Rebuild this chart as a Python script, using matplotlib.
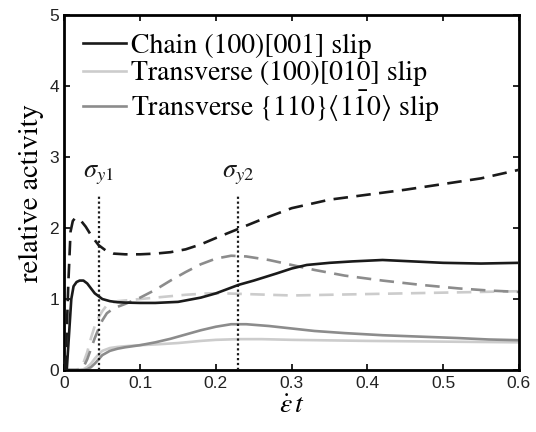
import numpy as np
import matplotlib
matplotlib.use("Agg")
import matplotlib.pyplot as plt

plt.rcParams['mathtext.fontset'] = 'stix'

# Chain (100)[001] slip
chain_sol_x = [0, 0.003, 0.006, 0.009, 0.012, 0.016, 0.02, 0.025, 0.03, 0.035, 0.04, 0.045, 0.05, 0.06, 0.07, 0.08, 0.1, 0.12, 0.15, 0.18, 0.2, 0.21, 0.23, 0.25, 0.28, 0.3, 0.32, 0.35, 0.38, 0.42, 0.46, 0.5, 0.55, 0.6]
chain_sol_y = [0, 0.0, 0.5, 1.0, 1.18, 1.24, 1.26, 1.26, 1.22, 1.15, 1.08, 1.04, 1.0, 0.97, 0.955, 0.95, 0.945, 0.945, 0.96, 1.02, 1.08, 1.12, 1.2, 1.26, 1.36, 1.43, 1.48, 1.51, 1.53, 1.55, 1.53, 1.51, 1.5, 1.51]
chain_dash_x = [0, 0.002, 0.005, 0.008, 0.011, 0.014, 0.018, 0.022, 0.028, 0.035, 0.045, 0.055, 0.065, 0.08, 0.1, 0.12, 0.14, 0.16, 0.18, 0.2, 0.23, 0.26, 0.3, 0.35, 0.4, 0.45, 0.5, 0.55, 0.6]
chain_dash_y = [0, 0.2, 1.2, 1.95, 2.1, 2.14, 2.13, 2.1, 2.02, 1.9, 1.76, 1.68, 1.64, 1.63, 1.63, 1.64, 1.66, 1.7, 1.77, 1.86, 1.99, 2.12, 2.28, 2.4, 2.47, 2.54, 2.62, 2.7, 2.82]

# Transverse (100)[010] slip
tr1_sol_x = [0, 0.02, 0.025, 0.03, 0.035, 0.04, 0.045, 0.05, 0.06, 0.07, 0.08, 0.1, 0.12, 0.15, 0.18, 0.2, 0.23, 0.26, 0.3, 0.4, 0.5, 0.6]
tr1_sol_y = [0, 0, 0.01, 0.04, 0.09, 0.16, 0.22, 0.27, 0.31, 0.325, 0.335, 0.35, 0.36, 0.38, 0.41, 0.425, 0.435, 0.435, 0.425, 0.41, 0.4, 0.39]
tr1_dash_x = [0, 0.015, 0.02, 0.025, 0.03, 0.035, 0.04, 0.045, 0.05, 0.055, 0.06, 0.07, 0.08, 0.1, 0.13, 0.16, 0.19, 0.21, 0.24, 0.27, 0.3, 0.35, 0.4, 0.45, 0.5, 0.55, 0.6]
tr1_dash_y = [0, 0, 0.02, 0.1, 0.25, 0.45, 0.62, 0.74, 0.83, 0.9, 0.94, 0.97, 0.98, 1.0, 1.03, 1.06, 1.08, 1.08, 1.07, 1.06, 1.05, 1.06, 1.07, 1.08, 1.09, 1.1, 1.11]

# Transverse {110}<1-10> slip
tr2_sol_x = [0, 0.025, 0.03, 0.035, 0.04, 0.045, 0.05, 0.06, 0.07, 0.08, 0.1, 0.12, 0.14, 0.16, 0.18, 0.2, 0.22, 0.24, 0.27, 0.3, 0.33, 0.37, 0.42, 0.47, 0.52, 0.56, 0.6]
tr2_sol_y = [0, 0, 0.01, 0.04, 0.09, 0.15, 0.21, 0.27, 0.3, 0.32, 0.35, 0.39, 0.44, 0.5, 0.56, 0.61, 0.645, 0.645, 0.62, 0.585, 0.55, 0.52, 0.49, 0.47, 0.45, 0.43, 0.42]
tr2_dash_x = [0, 0.02, 0.025, 0.03, 0.035, 0.04, 0.045, 0.05, 0.056, 0.065, 0.08, 0.1, 0.12, 0.14, 0.16, 0.18, 0.2, 0.22, 0.24, 0.27, 0.3, 0.33, 0.37, 0.42, 0.47, 0.52, 0.56, 0.6]
tr2_dash_y = [0, 0, 0.04, 0.15, 0.3, 0.45, 0.58, 0.7, 0.8, 0.87, 0.93, 1.02, 1.13, 1.26, 1.38, 1.49, 1.57, 1.61, 1.6, 1.55, 1.48, 1.41, 1.33, 1.26, 1.2, 1.15, 1.12, 1.1]

labels = ['Chain (100)[001] slip', 'Transverse (100)[010] slip',
          r'Transverse $\{110\}\langle 1\bar{1}0\rangle$ slip']
colors = ['#1a1a1a', '#cccccc', '#8c8c8c']

sigma_x = [0.045, 0.229]
sigma_labels = [r'$\sigma_{y1}$', r'$\sigma_{y2}$']

fig = plt.figure(figsize=(5.36, 4.32), dpi=100)
ax = fig.add_axes([0.1203, 0.1435, 0.8477, 0.8215])

lw = 1.9
dash = (0, (5.5, 3.2))
series = [(chain_sol_x, chain_sol_y, chain_dash_x, chain_dash_y),
          (tr1_sol_x, tr1_sol_y, tr1_dash_x, tr1_dash_y),
          (tr2_sol_x, tr2_sol_y, tr2_dash_x, tr2_dash_y)]
handles = []
for (sx, sy, dx, dy), c, lab in zip(series, colors, labels):
    z = 3 if c == '#1a1a1a' else 2
    h, = ax.plot(sx, sy, color=c, lw=lw, label=lab, zorder=z)
    ax.plot(dx, dy, color=c, lw=lw, linestyle=dash, zorder=z)
    handles.append(h)

for sx, sl in zip(sigma_x, sigma_labels):
    ax.plot([sx, sx], [0, 2.46], color='#1a1a1a', lw=1.6, linestyle=(0, (1, 1.2)), zorder=4)
    ax.text(sx, 2.58, sl, ha='center', va='bottom', fontsize=19, color='#1a1a1a')

ax.set_xlim(0, 0.6)
ax.set_ylim(0, 5)
ax.set_xticks([0, 0.1, 0.2, 0.3, 0.4, 0.5, 0.6])
ax.set_xticklabels(['0', '0.1', '0.2', '0.3', '0.4', '0.5', '0.6'])
ax.set_yticks([0, 1, 2, 3, 4, 5])
ax.tick_params(direction='in', top=True, right=True, length=4, width=1.2,
               labelsize=12.5, pad=4, labelcolor='#222222')
for lab in ax.get_xticklabels() + ax.get_yticklabels():
    lab.set_fontfamily('Liberation Sans')
for sp in ax.spines.values():
    sp.set_linewidth(2)

ax.set_xlabel(r'$\dot{\epsilon}\,t$', fontsize=20, labelpad=0)
ax.set_ylabel('relative activity', fontsize=20.5, fontfamily='STIXGeneral', labelpad=4)

leg = ax.legend(handles=handles, loc='upper left', frameon=False,
                prop={'family': 'STIXGeneral', 'size': 20},
                handlelength=1.55, handletextpad=0.2, labelspacing=0.08,
                borderaxespad=0.2, borderpad=0.45)

fig.savefig('out.png', dpi=100)
